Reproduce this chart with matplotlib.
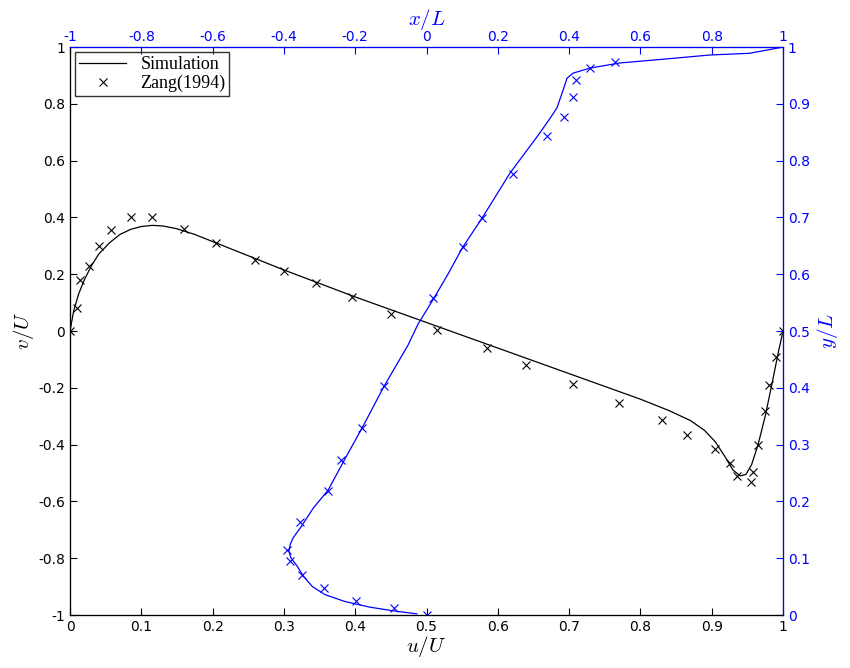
import matplotlib
matplotlib.use("Agg")
import matplotlib.pyplot as plt

plt.rcParams['font.family'] = ['DejaVu Sans']
plt.rcParams['mathtext.fontset'] = 'cm'

# --- v/U along the horizontal centreline (bottom / left axes) ---
sim_u = [0, 0.005, 0.012, 0.02, 0.03, 0.04, 0.055, 0.07, 0.085, 0.1, 0.115, 0.13, 0.15,
         0.175, 0.2, 0.3, 0.4, 0.5, 0.6, 0.7, 0.8, 0.84, 0.87, 0.89, 0.905, 0.918, 0.93,
         0.94, 0.948, 0.956, 0.965, 0.975, 0.985, 0.993, 1.0]
sim_v = [0, 0.07, 0.13, 0.18, 0.23, 0.27, 0.31, 0.34, 0.358, 0.368, 0.372, 0.37, 0.36,
         0.34, 0.315, 0.215, 0.12, 0.03, -0.06, -0.15, -0.24, -0.28, -0.315, -0.35, -0.39,
         -0.44, -0.49, -0.51, -0.505, -0.47, -0.4, -0.3, -0.18, -0.08, 0]
zang_u = [0, 0.01, 0.014, 0.027, 0.04, 0.058, 0.085, 0.115, 0.16, 0.205, 0.26, 0.3, 0.345,
          0.395, 0.45, 0.515, 0.585, 0.64, 0.705, 0.77, 0.83, 0.865, 0.905, 0.925, 0.935,
          0.955, 0.958, 0.965, 0.975, 0.98, 0.99, 1.0]
zang_v = [0, 0.08, 0.18, 0.23, 0.3, 0.355, 0.4, 0.4, 0.36, 0.31, 0.25, 0.21, 0.17, 0.12,
          0.06, 0.005, -0.06, -0.12, -0.185, -0.255, -0.315, -0.365, -0.415, -0.465, -0.51,
          -0.53, -0.495, -0.4, -0.28, -0.19, -0.09, 0]

# --- u along the vertical centreline (top / right axes) ---
sim_x = [-0.027, -0.1, -0.16, -0.23, -0.285, -0.32, -0.345, -0.365, -0.38, -0.386,
         -0.382, -0.374, -0.349, -0.318, -0.276, -0.22, -0.181, -0.119, -0.052, -0.024,
         0.018, 0.06, 0.102, 0.156, 0.234, 0.31, 0.345, 0.366, 0.383, 0.394, 0.411, 0.459,
         0.543, 0.636, 0.796, 0.907, 1.0]
sim_y = [0.002, 0.008, 0.014, 0.024, 0.036, 0.05, 0.068, 0.088, 0.1, 0.112,
         0.125, 0.136, 0.158, 0.188, 0.22, 0.285, 0.329, 0.403, 0.475, 0.512,
         0.555, 0.6, 0.648, 0.699, 0.778, 0.842, 0.873, 0.893, 0.924, 0.945, 0.954, 0.963,
         0.972, 0.977, 0.986, 0.989, 1.0]
zang_x = [0.0, -0.09, -0.198, -0.288, -0.35, -0.384, -0.39, -0.355, -0.276, -0.24, -0.18,
          -0.12, 0.018, 0.102, 0.156, 0.243, 0.338, 0.386, 0.411, 0.42, 0.459, 0.529]
zang_y = [0.0, 0.012, 0.025, 0.048, 0.07, 0.095, 0.114, 0.164, 0.218, 0.273, 0.329,
          0.403, 0.558, 0.648, 0.699, 0.776, 0.843, 0.877, 0.912, 0.942, 0.963, 0.974]

fig = plt.figure(figsize=(8.5, 6.68), dpi=100)
ax = fig.add_axes([0.0824, 0.0793, 0.8388, 0.8503])
ax.plot(sim_u, sim_v, 'k-', lw=0.9, label='Simulation')
ax.plot(zang_u, zang_v, 'kx', ms=6, mew=0.8, label='Zang(1994)')
ax.set_xlim(0, 1)
ax.set_ylim(-1, 1)
ax.set_xticks([i / 10 for i in range(11)])
ax.set_yticks([-1 + 0.2 * i for i in range(11)])
ax.set_xticklabels(['0', '0.1', '0.2', '0.3', '0.4', '0.5', '0.6', '0.7', '0.8', '0.9', '1'])
ax.set_yticklabels(['-1', '-0.8', '-0.6', '-0.4', '-0.2', '0', '0.2', '0.4', '0.6', '0.8', '1'])
ax.set_xlabel(r'$u/U$', fontsize=15, labelpad=0)
ax.set_ylabel(r'$v/U$', fontsize=15, labelpad=2)
ax.tick_params(direction='in', labelsize=10, length=5)
ax.legend(loc='upper left', frameon=True, fancybox=False, edgecolor='k',
          prop={'family': 'Liberation Serif', 'size': 13}, borderaxespad=0.3,
          handlelength=2.6, borderpad=0.2, labelspacing=0.1)

axr = ax.twinx()
ax2 = axr.twiny()
ax2.plot(sim_x, sim_y, 'b-', lw=0.9)
ax2.plot(zang_x, zang_y, 'bx', ms=6, mew=0.8)
ax2.set_xlim(-1, 1)
ax2.set_ylim(0, 1)
ax2.set_xticks([-1 + 0.2 * i for i in range(11)])
ax2.set_xticklabels(['-1', '-0.8', '-0.6', '-0.4', '-0.2', '0', '0.2', '0.4', '0.6', '0.8', '1'])
ax2.set_xlabel(r'$x/L$', fontsize=15, color='b', labelpad=4)
ax2.tick_params(axis='x', colors='b', direction='in', labelsize=10, length=5, pad=2)
ax2.spines['top'].set_color('b')
ax2.spines['right'].set_color('b')

axr.set_yticks([i / 10 for i in range(11)])
axr.set_yticklabels(['0', '0.1', '0.2', '0.3', '0.4', '0.5', '0.6', '0.7', '0.8', '0.9', '1'])
axr.set_ylabel(r'$y/L$', fontsize=15, color='b', labelpad=4)
axr.tick_params(axis='y', colors='b', direction='in', labelsize=10, length=5)
axr.spines['right'].set_color('b')
axr.spines['top'].set_color('b')

fig.savefig('out.png', dpi=100)
